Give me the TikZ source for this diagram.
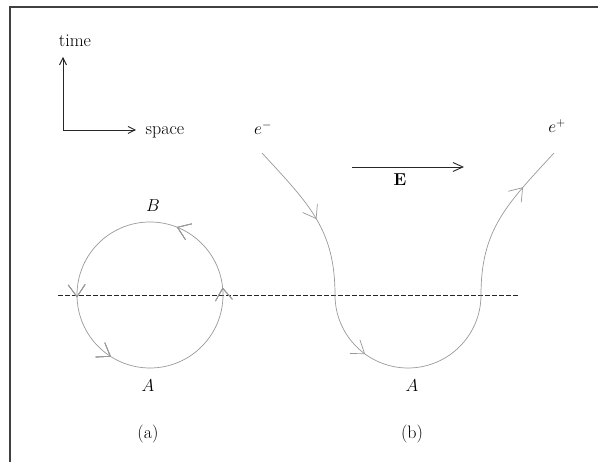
\documentclass[tikz,border=0pt]{standalone}
\usetikzlibrary{arrows.meta,decorations.markings}
\begin{document}
\begin{tikzpicture}[x=1pt,y=1pt,
  lbl/.style={font=\fontsize{18}{21}\selectfont, inner sep=0pt, anchor=base},
  world/.style={draw=black!40, line width=0.7pt},
  axis/.style={draw=black!85, line width=0.9pt, -{Straight Barb[length=7pt,width=7pt]}},
  mk/.style={postaction={decorate}, decoration={markings, mark=at position #1 with {\arrow{Straight Barb[length=12pt,width=17pt]}}}},
  dline/.style={draw=black!85, line width=0.9pt, dash pattern=on 4.5pt off 2.5pt}]
\useasboundingbox (0,0) rectangle (598,462);
% frame
\coordinate (F1) at (10,0);
\coordinate (F2) at (10,455);
\coordinate (F3) at (598,455);
\draw[black!75, line width=2pt] (F1) -- (F2) -- (F3);
% axes
\coordinate (O) at (63,332);
\coordinate (T) at (63,405);
\coordinate (S) at (136,332);
\draw[axis] (O) -- (T);
\draw[axis] (O) -- (S);
\node[lbl] (time) at (75,415) {time};
\node[lbl] (space) at (165,327) {space};
% E field
\coordinate (E1) at (352,295);
\coordinate (E2) at (464,295);
\draw[draw=black!85, line width=0.9pt, -{Straight Barb[length=10pt,width=9pt]}] (E1) -- (E2);
\node[lbl] (Elab) at (400,276) {$\mathbf{E}$};
% dashed line
\coordinate (D1) at (58,167);
\coordinate (D2) at (518,167);
\draw[dline] (D1) -- (D2);
% circle (a)
\coordinate (C) at (150,167);
\draw[world, mk=0.016, mk=0.19, mk=0.505, mk=0.66] (C) ++(0:73) arc[start angle=0, end angle=360, radius=73];
\node[lbl] (B) at (153,250) {$B$};
\node[lbl] (Aa) at (148,70) {$A$};
\node[lbl] (la) at (148,23) {(a)};
% path (b)
\coordinate (P0) at (262,309);
\coordinate (P1) at (335,167);
\coordinate (P2) at (481,167);
\coordinate (P3) at (554,309);
\draw[world, mk=0.52] (P0) .. controls (310,257) and (335,232) .. (P1);
\draw[world, mk=0.3] (P1) arc[start angle=180, end angle=360, radius=73];
\draw[world, mk=0.72] (P2) .. controls (481,232) and (506,257) .. (P3);
\node[lbl] (em) at (263,327) {$e^-$};
\node[lbl] (ep) at (557,329) {$e^+$};
\node[lbl] (Ab) at (412,70) {$A$};
\node[lbl] (lb) at (412,23) {(b)};
\end{tikzpicture}
\end{document}
